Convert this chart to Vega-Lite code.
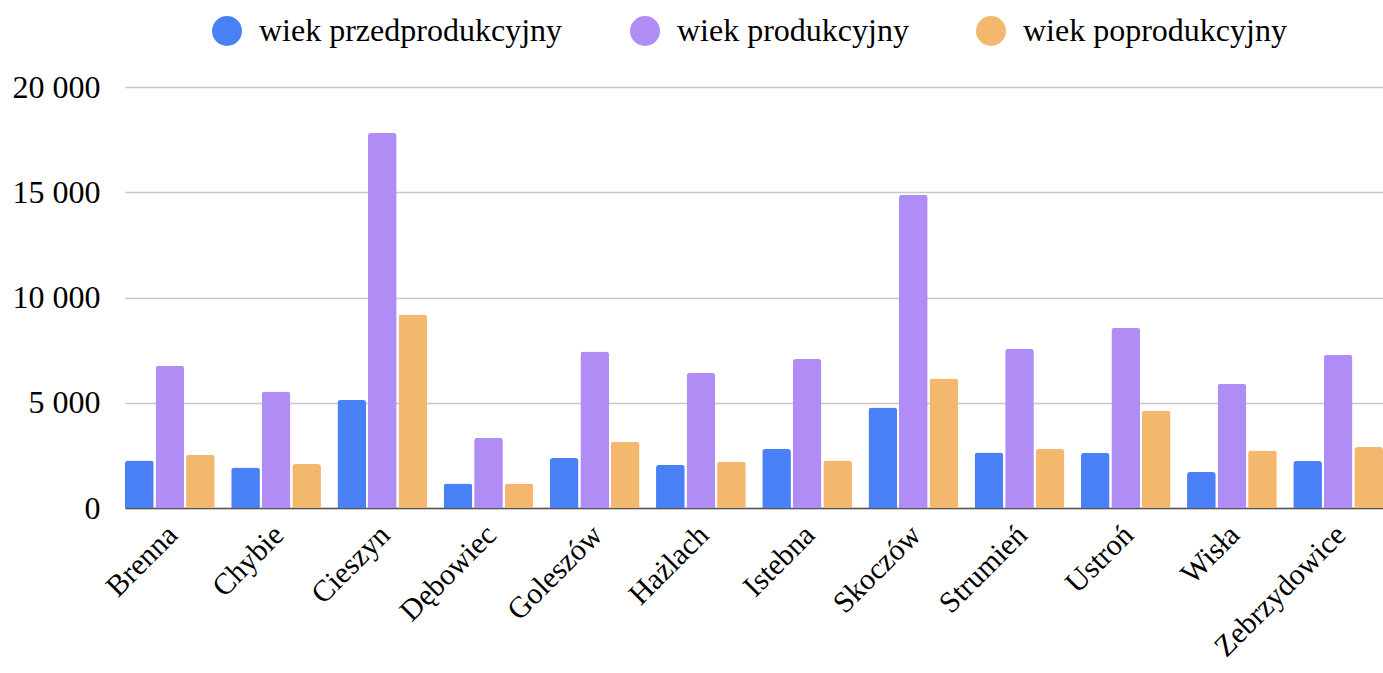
{
  "$schema": "https://vega.github.io/schema/vega-lite/v6.json",
  "width": 1258,
  "height": 421,
  "autosize": {"type": "none"},
  "padding": {"left": 125, "top": 87, "right": 0, "bottom": 165},
  "background": "white",
  "config": {"view": {"stroke": null}, "font": "Liberation Serif"},
  "data": {
    "values": [
      {"gmina": "Brenna", "grupa": "wiek przedprodukcyjny", "wartosc": 2261},
      {"gmina": "Brenna", "grupa": "wiek produkcyjny", "wartosc": 6760},
      {"gmina": "Brenna", "grupa": "wiek poprodukcyjny", "wartosc": 2532},
      {"gmina": "Chybie", "grupa": "wiek przedprodukcyjny", "wartosc": 1929},
      {"gmina": "Chybie", "grupa": "wiek produkcyjny", "wartosc": 5539},
      {"gmina": "Chybie", "grupa": "wiek poprodukcyjny", "wartosc": 2090},
      {"gmina": "Cieszyn", "grupa": "wiek przedprodukcyjny", "wartosc": 5131},
      {"gmina": "Cieszyn", "grupa": "wiek produkcyjny", "wartosc": 17815},
      {"gmina": "Cieszyn", "grupa": "wiek poprodukcyjny", "wartosc": 9197},
      {"gmina": "Dębowiec", "grupa": "wiek przedprodukcyjny", "wartosc": 1169},
      {"gmina": "Dębowiec", "grupa": "wiek produkcyjny", "wartosc": 3340},
      {"gmina": "Dębowiec", "grupa": "wiek poprodukcyjny", "wartosc": 1169},
      {"gmina": "Goleszów", "grupa": "wiek przedprodukcyjny", "wartosc": 2375},
      {"gmina": "Goleszów", "grupa": "wiek produkcyjny", "wartosc": 7440},
      {"gmina": "Goleszów", "grupa": "wiek poprodukcyjny", "wartosc": 3150},
      {"gmina": "Hażlach", "grupa": "wiek przedprodukcyjny", "wartosc": 2057},
      {"gmina": "Hażlach", "grupa": "wiek produkcyjny", "wartosc": 6413},
      {"gmina": "Hażlach", "grupa": "wiek poprodukcyjny", "wartosc": 2214},
      {"gmina": "Istebna", "grupa": "wiek przedprodukcyjny", "wartosc": 2803},
      {"gmina": "Istebna", "grupa": "wiek produkcyjny", "wartosc": 7078},
      {"gmina": "Istebna", "grupa": "wiek poprodukcyjny", "wartosc": 2261},
      {"gmina": "Skoczów", "grupa": "wiek przedprodukcyjny", "wartosc": 4779},
      {"gmina": "Skoczów", "grupa": "wiek produkcyjny", "wartosc": 14884},
      {"gmina": "Skoczów", "grupa": "wiek poprodukcyjny", "wartosc": 6157},
      {"gmina": "Strumień", "grupa": "wiek przedprodukcyjny", "wartosc": 2641},
      {"gmina": "Strumień", "grupa": "wiek produkcyjny", "wartosc": 7568},
      {"gmina": "Strumień", "grupa": "wiek poprodukcyjny", "wartosc": 2803},
      {"gmina": "Ustroń", "grupa": "wiek przedprodukcyjny", "wartosc": 2613},
      {"gmina": "Ustroń", "grupa": "wiek produkcyjny", "wartosc": 8565},
      {"gmina": "Ustroń", "grupa": "wiek poprodukcyjny", "wartosc": 4637},
      {"gmina": "Wisła", "grupa": "wiek przedprodukcyjny", "wartosc": 1710},
      {"gmina": "Wisła", "grupa": "wiek produkcyjny", "wartosc": 5905},
      {"gmina": "Wisła", "grupa": "wiek poprodukcyjny", "wartosc": 2736},
      {"gmina": "Zebrzydowice", "grupa": "wiek przedprodukcyjny", "wartosc": 2233},
      {"gmina": "Zebrzydowice", "grupa": "wiek produkcyjny", "wartosc": 7283},
      {"gmina": "Zebrzydowice", "grupa": "wiek poprodukcyjny", "wartosc": 2898}
    ]
  },
  "mark": {"type": "bar", "cornerRadiusTopLeft": 3, "cornerRadiusTopRight": 3},
  "encoding": {
    "x": {
      "field": "gmina",
      "type": "nominal",
      "sort": null,
      "scale": {"paddingInner": 0.155, "paddingOuter": 0},
      "axis": {
        "title": null,
        "labelAngle": -45,
        "labelAlign": "right",
        "labelBaseline": "middle",
        "labelFontSize": 30,
        "labelColor": "#000000",
        "labelPadding": 22,
        "labelOffset": 3,
        "labelLimit": 400,
        "ticks": false,
        "domainColor": "#555555",
        "domainWidth": 1.5
      }
    },
    "xOffset": {
      "field": "grupa",
      "sort": ["wiek przedprodukcyjny", "wiek produkcyjny", "wiek poprodukcyjny"],
      "scale": {"paddingInner": 0.06, "paddingOuter": 0}
    },
    "y": {
      "field": "wartosc",
      "type": "quantitative",
      "scale": {"domain": [0, 20000]},
      "axis": {
        "title": null,
        "values": [0, 5000, 10000, 15000, 20000],
        "labelExpr": "replace(format(datum.value, ','), ',', ' ')",
        "labelFontSize": 32,
        "labelColor": "#000000",
        "labelPadding": 25,
        "ticks": false,
        "domain": false,
        "gridColor": "#c8c8c8",
        "gridWidth": 1.5
      }
    },
    "color": {
      "field": "grupa",
      "type": "nominal",
      "sort": ["wiek przedprodukcyjny", "wiek produkcyjny", "wiek poprodukcyjny"],
      "scale": {
        "domain": ["wiek przedprodukcyjny", "wiek produkcyjny", "wiek poprodukcyjny"],
        "range": ["#4a80f6", "#af8df4", "#f3b86e"]
      },
      "legend": {
        "orient": "none",
        "legendX": 86,
        "legendY": -72,
        "direction": "horizontal",
        "title": null,
        "padding": 0,
        "symbolType": "circle",
        "symbolSize": 900,
        "symbolStrokeWidth": 0,
        "symbolOpacity": 1,
        "labelFontSize": 32,
        "labelLimit": 600,
        "labelOffset": 16,
        "labelColor": "#000000",
        "columnPadding": 66
      }
    }
  }
}
